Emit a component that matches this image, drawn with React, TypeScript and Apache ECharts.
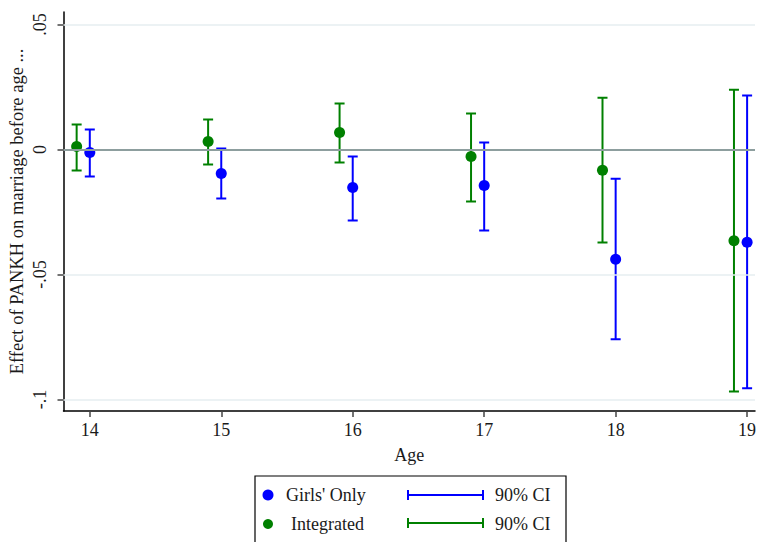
import React, { useEffect, useRef } from "react";
import * as echarts from "echarts";

const ages = [14, 15, 16, 17, 18, 19];
const girlsEst = [-0.0012, -0.0096, -0.0152, -0.0144, -0.0439, -0.0371];
const girlsLow = [-0.0108, -0.0196, -0.0284, -0.0324, -0.0759, -0.0955];
const girlsHigh = [0.008, 0.0004, -0.0028, 0.0028, -0.0117, 0.0216];
const integEst = [0.0012, 0.0032, 0.0068, -0.0028, -0.0083, -0.0365];
const integLow = [-0.0084, -0.006, -0.0052, -0.0208, -0.0372, -0.0968];
const integHigh = [0.01, 0.012, 0.0184, 0.0144, 0.0207, 0.0239];
const integOffset = -0.1;
const yTicks = [-0.1, -0.05, 0, 0.05];
const yTickLabels = ["-.1", "-.05", "0", ".05"];
const gridValues = [-0.1, -0.05, 0.05];

const BLUE = "#0000ff";
const GREEN = "#008000";
const FONT = "Liberation Serif";

function errorBar(color: string) {
  return (params: any, api: any) => {
    const x = api.value(0);
    const lo = api.coord([x, api.value(1)]);
    const hi = api.coord([x, api.value(2)]);
    const half = 5;
    const style = { stroke: color, lineWidth: 2 };
    return {
      type: "group",
      children: [
        { type: "line", shape: { x1: lo[0], y1: lo[1], x2: hi[0], y2: hi[1] }, style },
        { type: "line", shape: { x1: lo[0] - half, y1: lo[1], x2: lo[0] + half, y2: lo[1] }, style },
        { type: "line", shape: { x1: hi[0] - half, y1: hi[1], x2: hi[0] + half, y2: hi[1] }, style },
      ],
    };
  };
}

export default function App() {
  const ref = useRef<HTMLDivElement>(null);
  useEffect(() => {
    if (!ref.current) return;
    const chart = echarts.init(ref.current, null, { renderer: "svg" });
    const textStyle = { fontFamily: FONT, fontSize: 18, fill: "#1a1a1a" };
    const option: any = {
      animation: false,
      backgroundColor: "#ffffff",
      grid: { left: 63.5, right: 2, top: 12, bottom: 131, containLabel: false, outerBoundsMode: "none" },
      xAxis: {
        type: "value",
        min: 13.8,
        max: 19.06,
        name: "Age",
        nameLocation: "middle",
        nameGap: 35,
        nameMoveOverlap: false,
        nameTextStyle: { fontFamily: FONT, fontSize: 18, color: "#1a1a1a" },
        axisLine: { show: true, onZero: false, lineStyle: { color: "#000", width: 1.5 } },
        axisTick: { show: true, length: 6, customValues: ages, lineStyle: { color: "#444", width: 1.5 } },
        axisLabel: {
          customValues: ages,
          margin: 10,
          fontFamily: FONT,
          fontSize: 18,
          color: "#1a1a1a",
        },
        splitLine: { show: false },
      },
      yAxis: {
        type: "value",
        min: -0.1046,
        max: 0.055,
        name: "Effect of PANKH on marriage before age ...",
        nameLocation: "middle",
        nameGap: 37,
        nameMoveOverlap: false,
        nameTextStyle: { fontFamily: FONT, fontSize: 18.5, color: "#1a1a1a" },
        axisLine: { show: true, onZero: false, lineStyle: { color: "#000", width: 1.5 } },
        axisTick: { show: true, length: 6, customValues: yTicks, lineStyle: { color: "#444", width: 1.5 } },
        axisLabel: {
          customValues: yTicks,
          rotate: 90,
          margin: 15,
          fontFamily: FONT,
          fontSize: 18,
          color: "#1a1a1a",
          formatter: (v: number) => {
            const i = yTicks.findIndex((t) => Math.abs(t - v) < 1e-9);
            return i >= 0 ? yTickLabels[i] : "";
          },
        },
        splitLine: { show: false },
      },
      series: [
        {
          type: "line",
          data: [],
          silent: true,
          markLine: {
            silent: true,
            symbol: "none",
            label: { show: false },
            data: [
              ...gridValues.map((v) => ({ yAxis: v, lineStyle: { color: "#e6eef0", width: 1.5, type: "solid" } })),
              { yAxis: 0, lineStyle: { color: "#8d9e9e", width: 2, type: "solid" } },
            ],
          },
          z: 1,
        },
        {
          name: "IntegratedCI",
          type: "custom",
          renderItem: errorBar(GREEN),
          data: ages.map((a, i) => [a + integOffset, integLow[i], integHigh[i]]),
          z: 3,
        },
        {
          name: "GirlsCI",
          type: "custom",
          renderItem: errorBar(BLUE),
          data: ages.map((a, i) => [a, girlsLow[i], girlsHigh[i]]),
          z: 3,
        },
        {
          name: "Integrated",
          type: "scatter",
          symbol: "circle",
          symbolSize: 11,
          itemStyle: { color: GREEN, opacity: 1 },
          data: ages.map((a, i) => [a + integOffset, integEst[i]]),
          z: 4,
        },
        {
          name: "Girls' Only",
          type: "scatter",
          symbol: "circle",
          symbolSize: 11,
          itemStyle: { color: BLUE, opacity: 1 },
          data: ages.map((a, i) => [a, girlsEst[i]]),
          z: 4,
        },
      ],
      graphic: [
        {
          type: "rect",
          shape: { x: 255, y: 476, width: 311, height: 72 },
          style: { fill: "#fff", stroke: "#000", lineWidth: 1.2 },
          z: 10,
        },
        { type: "circle", shape: { cx: 268, cy: 495, r: 5.5 }, style: { fill: BLUE }, z: 11 },
        { type: "text", x: 286, y: 495, style: { ...textStyle, text: "Girls' Only", verticalAlign: "middle" }, z: 11 },
        { type: "line", shape: { x1: 408, y1: 495, x2: 483, y2: 495 }, style: { stroke: BLUE, lineWidth: 2 }, z: 11 },
        { type: "line", shape: { x1: 408, y1: 490, x2: 408, y2: 500 }, style: { stroke: BLUE, lineWidth: 2 }, z: 11 },
        { type: "line", shape: { x1: 483, y1: 490, x2: 483, y2: 500 }, style: { stroke: BLUE, lineWidth: 2 }, z: 11 },
        { type: "text", x: 495, y: 495, style: { ...textStyle, text: "90% CI", verticalAlign: "middle" }, z: 11 },
        { type: "circle", shape: { cx: 268, cy: 524, r: 5 }, style: { fill: GREEN }, z: 11 },
        { type: "text", x: 291, y: 524, style: { ...textStyle, text: "Integrated", verticalAlign: "middle" }, z: 11 },
        { type: "line", shape: { x1: 408, y1: 523, x2: 483, y2: 523 }, style: { stroke: GREEN, lineWidth: 2 }, z: 11 },
        { type: "line", shape: { x1: 408, y1: 518, x2: 408, y2: 528 }, style: { stroke: GREEN, lineWidth: 2 }, z: 11 },
        { type: "line", shape: { x1: 483, y1: 518, x2: 483, y2: 528 }, style: { stroke: GREEN, lineWidth: 2 }, z: 11 },
        { type: "text", x: 495, y: 524, style: { ...textStyle, text: "90% CI", verticalAlign: "middle" }, z: 11 },
      ],
    };
    chart.setOption(option);
    return () => chart.dispose();
  }, []);
  return (
    <div
      ref={ref}
      style={{ position: "fixed", left: 0, top: 0, width: 757, height: 542, background: "#fff" }}
    />
  );
}
